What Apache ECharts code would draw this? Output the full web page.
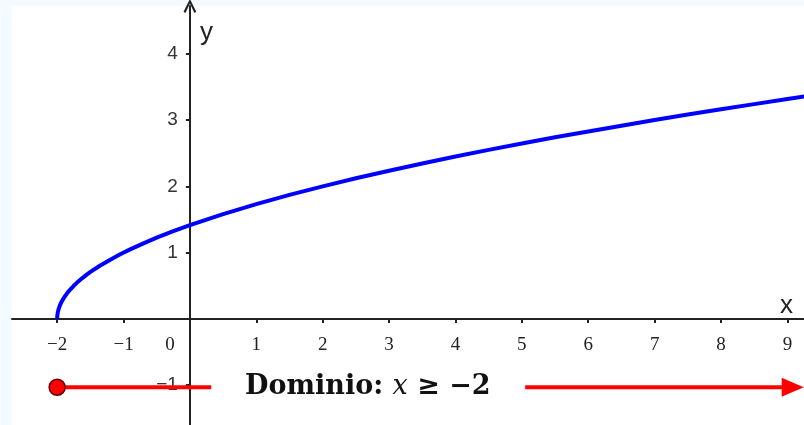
<!DOCTYPE html>
<html>
<head>
<meta charset="utf-8">
<script src="https://cdn.jsdelivr.net/npm/echarts@6/dist/echarts.min.js"></script>
<style>
  html, body { margin: 0; padding: 0; background: #f5faff; }
  #main { width: 804px; height: 425px; }
</style>
</head>
<body>
<div id="main"></div>
<script>
// curve y = sqrt(x + 2)
var curveX = [-2, -1.998, -1.99, -1.98, -1.96, -1.94, -1.91, -1.88, -1.84, -1.8, -1.75, -1.7, -1.62, -1.55, -1.45, -1.35, -1.2, -1.05, -0.9, -0.7, -0.5, -0.25, 0, 0.5, 1, 1.5, 2, 2.5, 3, 3.5, 4, 4.5, 5, 5.5, 6, 6.5, 7, 7.5, 8, 8.5, 9, 9.3];
var curveY = [0, 0.045, 0.1, 0.14, 0.2, 0.245, 0.3, 0.346, 0.4, 0.447, 0.5, 0.548, 0.616, 0.671, 0.742, 0.806, 0.894, 0.975, 1.049, 1.14, 1.225, 1.323, 1.414, 1.581, 1.732, 1.871, 2, 2.121, 2.236, 2.345, 2.449, 2.55, 2.646, 2.739, 2.828, 2.915, 3, 3.082, 3.162, 3.24, 3.317, 3.362];

var xTicks = [-2, -1, 0, 1, 2, 3, 4, 5, 6, 7, 8, 9];
var yTicks = [-1, 1, 2, 3, 4];

// domain marker (x >= -2)
var domainY = -1.03;
var domainStart = -2;
var domainLineEnd = 0.32;
var arrowStart = 5.05;
var arrowEnd = 9.08;
var domainTextX = 2.68;
var domainText = ['Dominio: ', 'x', ' \u2265 \u22122'];

function minus(v) { return String(v).replace('-', '\u2212'); }

var curve = curveX.map(function (x, i) { return [x, curveY[i]]; });

// plot box, used to put the axes through the origin
var W = 804, H = 425, gl = 12, gt = 6;
var xMin = -2.68, xMax = 9.25, yMin = -1.6, yMax = 4.72;
var xOff = -(0 - xMin) / (xMax - xMin) * (W - gl);
var yOff = -(0 - yMin) / (yMax - yMin) * (H - gt);

option = {
    backgroundColor: '#f5faff',
    animation: false,
    grid: {
        left: gl, right: 0, top: gt, bottom: 0,
        containLabel: false,
        outerBoundsMode: 'none',
        show: true, backgroundColor: '#ffffff', borderWidth: 0
    },
    xAxis: {
        type: 'value',
        min: xMin,
        max: xMax,
        position: 'bottom',
        offset: yOff,
        name: 'x',
        nameLocation: 'end',
        nameGap: -24,
        nameTextStyle: {
            fontFamily: 'Liberation Sans', fontSize: 26, color: '#222',
            verticalAlign: 'bottom', padding: [0, 0, 0, 0]
        },
        splitLine: { show: false },
        axisLine: { onZero: false, lineStyle: { color: '#222', width: 2 } },
        axisTick: { show: true, length: 4, customValues: xTicks, lineStyle: { color: '#222', width: 2 } },
        axisLabel: {
            customValues: xTicks,
            margin: 17,
            fontFamily: 'Liberation Serif',
            fontSize: 19,
            color: '#222',
            formatter: function (v) {
                if (v === 0) return '{z|0}';
                return minus(v);
            },
            rich: {
                z: { fontFamily: 'Liberation Serif', fontSize: 19, color: '#222', padding: [0, 40, 0, 0] }
            }
        }
    },
    yAxis: {
        type: 'value',
        min: yMin,
        max: yMax,
        position: 'left',
        offset: xOff,
        name: 'y',
        nameLocation: 'end',
        nameGap: -40,
        nameTextStyle: {
            fontFamily: 'Liberation Sans', fontSize: 26, color: '#222',
            align: 'left', padding: [0, 0, 0, 10]
        },
        splitLine: { show: false },
        axisLine: {
            onZero: false,
            symbol: ['none', 'path://M0,10 L5,0 L10,10 L8.5,11 L5,3.6 L1.5,11 Z'],
            symbolSize: [20, 14],
            lineStyle: { color: '#222', width: 2 }
        },
        axisTick: { show: true, length: 4, customValues: yTicks, lineStyle: { color: '#222', width: 2 } },
        axisLabel: {
            customValues: yTicks,
            margin: 12,
            fontFamily: 'Liberation Sans',
            fontSize: 19,
            color: '#333',
            formatter: function (v) { return minus(v); }
        }
    },
    series: [
        {
            type: 'line',
            data: curve,
            showSymbol: false,
            smooth: false,
            lineStyle: { color: '#0000ff', width: 4 },
            z: 3
        },
        {
            type: 'line',
            data: [
                { value: [domainStart, domainY], symbol: 'circle', symbolSize: 16,
                  itemStyle: { color: '#ff0000', borderColor: '#660000', borderWidth: 1.5 } },
                { value: [domainLineEnd, domainY], symbol: 'none' }
            ],
            lineStyle: { color: '#ff0000', width: 4 },
            z: 4
        },
        {
            type: 'line',
            data: [
                { value: [arrowStart, domainY], symbol: 'none' },
                { value: [arrowEnd, domainY], symbol: 'triangle', symbolSize: [19, 22], symbolRotate: -90,
                  itemStyle: { color: '#ff0000' } }
            ],
            lineStyle: { color: '#ff0000', width: 4 },
            z: 4
        },
        {
            type: 'scatter',
            data: [[domainTextX, domainY]],
            symbolSize: 0,
            silent: true,
            itemStyle: { opacity: 1 },
            label: {
                show: true,
                position: 'inside',
                color: '#111',
                formatter: '{b|' + domainText[0] + '}{i|' + domainText[1] + '}{b|' + domainText[2] + '}',
                rich: {
                    b: { fontFamily: 'DejaVu Serif', fontWeight: 'bold', fontSize: 27, color: '#111' },
                    i: { fontFamily: 'DejaVu Serif', fontStyle: 'italic', fontSize: 27, color: '#111' }
                }
            },
            z: 5
        }
    ]
};
var myChart = echarts.init(document.getElementById('main'));
myChart.setOption(option);
</script>
</body>
</html>
